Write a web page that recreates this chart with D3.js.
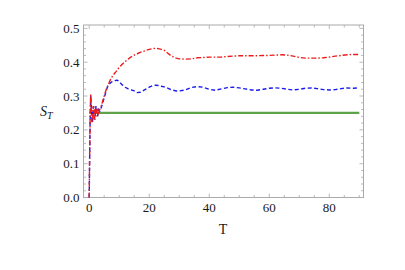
<!DOCTYPE html>
<html>
<head>
<meta charset="utf-8">
<script src="https://cdn.jsdelivr.net/npm/d3@7"></script>
<style>
  body { margin: 0; background: #fff; }
  svg text { font-family: "Liberation Serif", "Times New Roman", serif; fill: #1a1a1a; }
</style>
</head>
<body>
<svg id="chart" width="405" height="270"></svg>
<script>
// blue dashed series
var blueT = [0, 0.1, 0.3, 0.5, 0.7, 0.9, 1.1, 1.3, 1.5, 1.7, 1.9, 2.1, 2.3, 2.5, 2.8, 3.1, 3.5, 4, 4.5, 5, 5.5, 6, 6.5, 7, 7.5, 8, 8.5, 9, 9.5, 10,
    11, 12, 13, 14, 15, 16, 17, 18, 19, 20, 21, 22, 23, 24, 25, 26, 27, 28, 29, 30,
    32, 34, 36, 38, 40, 42, 44, 46, 48, 50, 52, 54, 56, 58, 60, 62, 64, 66, 68, 70, 72, 74, 76, 78, 80, 82, 84, 86, 88, 90];
var blueS = [0, 0.08, 0.22, 0.30, 0.27, 0.23, 0.22, 0.26, 0.27, 0.24, 0.23, 0.26, 0.27, 0.25, 0.24, 0.26, 0.255, 0.265, 0.28, 0.295, 0.31, 0.325, 0.333, 0.338, 0.342, 0.343, 0.345, 0.347, 0.346, 0.342,
    0.333, 0.326, 0.321, 0.318, 0.315, 0.31, 0.311, 0.316, 0.321, 0.326, 0.33, 0.332, 0.331, 0.329, 0.327, 0.324, 0.32, 0.317, 0.315, 0.315,
    0.318, 0.325, 0.328, 0.326, 0.32, 0.317, 0.321, 0.325, 0.326, 0.324, 0.321, 0.318, 0.317, 0.32, 0.323, 0.324, 0.323, 0.32, 0.318, 0.32, 0.323, 0.324, 0.322, 0.319, 0.318, 0.319, 0.322, 0.324, 0.323, 0.324];

// red dash-dot series
var redT = [0, 0.1, 0.3, 0.5, 0.7, 0.9, 1.1, 1.3, 1.5, 1.7, 1.9, 2.1, 2.3, 2.5, 2.8, 3.1, 3.5, 4, 4.5, 5, 5.5, 6, 7, 8, 9, 10,
    11, 12, 13, 14, 15, 16, 17, 18, 19, 20, 21, 22, 23, 24, 25, 26, 27, 28, 29, 30,
    32, 34, 36, 38, 40, 42, 44, 46, 48, 50, 52, 54, 56, 58, 60, 62, 64, 66, 68, 70, 72, 74, 76, 78, 80, 82, 84, 86, 88, 90];
var redS = [0, 0.09, 0.23, 0.305, 0.26, 0.22, 0.235, 0.27, 0.255, 0.23, 0.26, 0.27, 0.24, 0.25, 0.265, 0.25, 0.26, 0.27, 0.285, 0.3, 0.315, 0.327, 0.347, 0.362, 0.373, 0.385,
    0.394, 0.402, 0.409, 0.416, 0.421, 0.425, 0.429, 0.432, 0.435, 0.438, 0.44, 0.441, 0.44, 0.438, 0.435, 0.428, 0.421, 0.416, 0.412, 0.41,
    0.409, 0.41, 0.413, 0.414, 0.415, 0.415, 0.415, 0.417, 0.418, 0.419, 0.419, 0.419, 0.419, 0.42, 0.42, 0.421, 0.422, 0.421, 0.418, 0.414, 0.412, 0.412, 0.412, 0.413, 0.415, 0.418, 0.42, 0.422, 0.423, 0.423];

// green constant line
var greenT = [0, 90];
var greenS = [0.25, 0.25];

var xTicks = [0, 20, 40, 60, 80];
var yTicks = [0.0, 0.1, 0.2, 0.3, 0.4, 0.5];

var svg = d3.select("#chart");
var plotLeft = 83.5, plotRight = 363.5, plotTop = 25, plotBottom = 197.5;

var x = d3.scaleLinear().domain([-1.9, 91.4]).range([plotLeft, plotRight]);
var y = d3.scaleLinear().domain([0, 0.51]).range([plotBottom, plotTop]);

var frameColor = "#aaaaaa";

// minor / major ticks, drawn inward on all four sides
var g = svg.append("g");
d3.range(0, 91, 5).forEach(function(t){
    var len = (t % 20 === 0) ? 4 : 2.5;
    g.append("line").attr("x1", x(t)).attr("x2", x(t)).attr("y1", plotBottom).attr("y2", plotBottom - len)
        .attr("stroke", frameColor).attr("stroke-width", 0.8);
    g.append("line").attr("x1", x(t)).attr("x2", x(t)).attr("y1", plotTop).attr("y2", plotTop + len)
        .attr("stroke", frameColor).attr("stroke-width", 0.8);
});
d3.range(0, 26).forEach(function(i){
    var v = i * 0.02;
    var len = (i % 5 === 0) ? 4 : 2.5;
    g.append("line").attr("x1", plotLeft).attr("x2", plotLeft + len).attr("y1", y(v)).attr("y2", y(v))
        .attr("stroke", frameColor).attr("stroke-width", 0.8);
    g.append("line").attr("x1", plotRight).attr("x2", plotRight - len).attr("y1", y(v)).attr("y2", y(v))
        .attr("stroke", frameColor).attr("stroke-width", 0.8);
});

svg.append("rect")
    .attr("x", plotLeft).attr("y", plotTop)
    .attr("width", plotRight - plotLeft).attr("height", plotBottom - plotTop)
    .attr("fill", "none").attr("stroke", frameColor).attr("stroke-width", 1);

// tick labels
svg.selectAll(".xl").data(xTicks).enter().append("text")
    .attr("x", function(d){ return x(d); })
    .attr("y", 212)
    .attr("text-anchor", "middle")
    .attr("font-size", 13)
    .text(function(d){ return d; });

svg.selectAll(".yl").data(yTicks).enter().append("text")
    .attr("x", 79.5)
    .attr("y", function(d){ return y(d) + 4.5; })
    .attr("text-anchor", "end")
    .attr("font-size", 13)
    .text(function(d){ return d.toFixed(1); });

// axis titles
svg.append("text").attr("x", 223).attr("y", 234).attr("text-anchor", "middle")
    .attr("font-size", 14).text("T");
var yt = svg.append("text").attr("x", 40).attr("y", 116).attr("font-size", 14);
yt.append("tspan").attr("font-style", "italic").text("S");
yt.append("tspan").attr("font-style", "italic").attr("font-size", 10).attr("dy", 3).text("T");

// series
var line = d3.line()
    .x(function(d){ return x(d[0]); })
    .y(function(d){ return y(d[1]); });

svg.append("path")
    .datum(d3.zip(greenT, greenS))
    .attr("d", line)
    .attr("fill", "none").attr("stroke", "#5ea34c").attr("stroke-width", 2.2);

svg.append("path")
    .datum(d3.zip(blueT, blueS))
    .attr("d", line)
    .attr("fill", "none").attr("stroke", "#1a1aee").attr("stroke-width", 1.4)
    .attr("stroke-dasharray", "4,2.5");

svg.append("path")
    .datum(d3.zip(redT, redS))
    .attr("d", line)
    .attr("fill", "none").attr("stroke", "#ee1a1a").attr("stroke-width", 1.4)
    .attr("stroke-dasharray", "5,2,1.5,2");
</script>
</body>
</html>
